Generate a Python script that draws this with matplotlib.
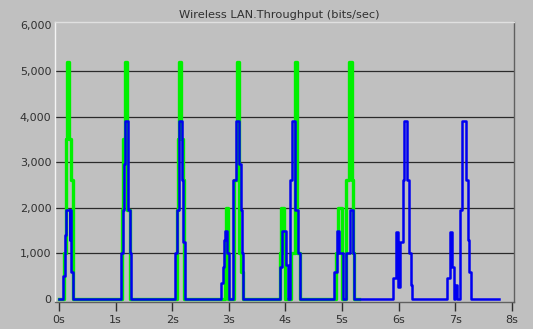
import matplotlib
matplotlib.use('Agg')
import matplotlib.pyplot as plt

plt.rcParams['font.family'] = ['DejaVu Sans']

# Wireless LAN throughput (bits/sec) - step samples
t_green = [0.00, 0.09, 0.12, 0.145, 0.18, 0.22, 0.24,
           1.12, 1.14, 1.175, 1.21, 1.26,
           2.08, 2.10, 2.125, 2.16, 2.19, 2.21,
           2.93, 2.96, 2.99, 3.10, 3.14, 3.18, 3.22, 3.25,
           3.91, 3.93, 3.97, 4.00, 4.10, 4.17, 4.21, 4.26,
           4.90, 4.935, 5.00, 5.08, 5.13, 5.17, 5.20, 5.22, 5.30]
v_green = [0, 1000, 3500, 5200, 3500, 2600, 0,
           1950, 3500, 5200, 1950, 0,
           1950, 3500, 5200, 3500, 2600, 0,
           1000, 2000, 0, 2600, 5200, 1000, 600, 0,
           1000, 2000, 1000, 0, 1000, 5200, 1000, 0,
           1000, 2000, 0, 2600, 5200, 2600, 1000, 0, 0]

t_blue = [0.00, 0.07, 0.10, 0.13, 0.19, 0.20, 0.22, 0.25,
          1.095, 1.13, 1.15, 1.17, 1.22, 1.25, 1.27,
          2.05, 2.085, 2.12, 2.17, 2.20, 2.22,
          2.86, 2.89, 2.915, 2.93, 2.975, 3.01,
          3.08, 3.13, 3.18, 3.21, 3.24, 3.26,
          3.905, 3.945, 4.005, 4.05,
          4.08, 4.11, 4.165, 4.22, 4.26,
          4.86, 4.905, 4.95, 5.01,
          5.08, 5.14, 5.19, 5.22,
          5.905, 5.955, 5.985, 6.025, 6.07, 6.10, 6.155, 6.19, 6.215, 6.23,
          6.85, 6.91, 6.95, 6.98, 7.00, 7.03,
          7.08, 7.13, 7.20, 7.23, 7.25, 7.28, 7.78]
v_blue = [0, 500, 1400, 1950, 1300, 1950, 600, 0,
          1000, 1950, 2950, 3900, 1950, 1000, 0,
          1000, 1950, 3900, 2600, 1250, 0,
          350, 700, 1300, 1500, 1000, 0,
          2600, 3900, 2950, 1950, 1000, 0,
          700, 1500, 750, 0,
          2600, 3900, 1950, 1000, 0,
          600, 1500, 1000, 0,
          1000, 1950, 1000, 0,
          460, 1470, 260, 1250, 2600, 3900, 2600, 1000, 300, 0,
          460, 1470, 700, 0, 300, 0,
          1950, 3900, 2600, 1300, 600, 0, 0]

x_ticks = [0, 1, 2, 3, 4, 5, 6, 7, 8]
x_labels = ['0s', '1s', '2s', '3s', '4s', '5s', '6s', '7s', '8s']
y_ticks = [0, 1000, 2000, 3000, 4000, 5000, 6000]
y_labels = ['0', '1,000', '2,000', '3,000', '4,000', '5,000', '6,000']

bg = '#c0c0c0'
fig = plt.figure(figsize=(5.33, 3.29), dpi=100, facecolor=bg)
ax = fig.add_axes([55/533, 1 - 302/329, (514 - 55)/533, (302 - 22)/329])
ax.set_facecolor(bg)

ax.plot(t_green, v_green, drawstyle='steps-post', color='#00f000', lw=2.4, zorder=3)
ax.plot(t_blue, v_blue, drawstyle='steps-post', color='#0000f0', lw=1.8, zorder=4)

ax.set_xlim(-0.07, 8.04)
ax.set_ylim(-66, 6075)
ax.set_xticks(x_ticks)
ax.set_xticklabels(x_labels)
ax.set_yticks(y_ticks)
ax.set_yticklabels(y_labels)
ax.tick_params(axis='x', direction='out', length=6.5, width=1, color='#303030',
               pad=3, labelsize=8, labelcolor='#303030')
ax.tick_params(axis='y', length=0, pad=2.5, labelsize=8, labelcolor='#303030')

for yv in y_ticks[1:-1]:
    ax.axhline(yv, color='#2a2a2a', lw=0.9, zorder=1)

ax.spines['left'].set_color('#f4f4f4')
ax.spines['top'].set_color('#e0e0e0')
ax.spines['right'].set_color('#606060')
ax.spines['bottom'].set_color('#606060')
for s in ax.spines.values():
    s.set_linewidth(1)

fig.text(279/533, 1 - 15/329, 'Wireless LAN.Throughput (bits/sec)', ha='center', va='center',
         fontsize=8.2, color='#303030')

fig.savefig('out.png', dpi=100, facecolor=bg)
